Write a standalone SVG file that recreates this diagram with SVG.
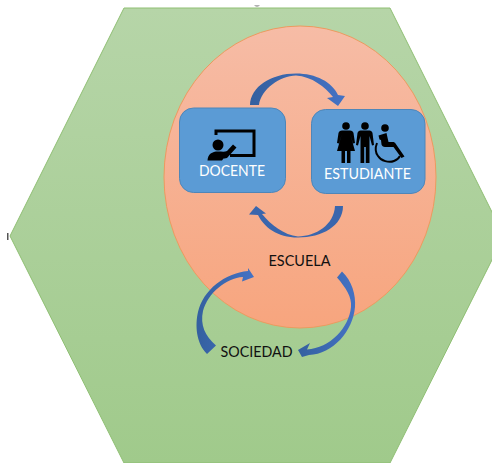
<svg xmlns="http://www.w3.org/2000/svg" width="492" height="463" viewBox="0 0 492 463">
<style>
text{font-family:Lato,"Liberation Sans",sans-serif;font-size:15.500px;text-anchor:middle}
.w{fill:#fff}.k{fill:#111}
.box{fill:#5b9bd5;stroke:#4f86b8;stroke-width:1}
.arrow{fill:url(#ga)}
.ic{fill:#000}
.icl{fill:none;stroke:#000}
</style>
<defs>
<linearGradient id="gh" x1="0" y1="0" x2="0" y2="1"><stop offset="0" stop-color="#b6d5a8"/><stop offset="1" stop-color="#a0ca8b"/></linearGradient>
<linearGradient id="ge" x1="0" y1="0" x2="0" y2="1"><stop offset="0" stop-color="#f6bca6"/><stop offset="1" stop-color="#f7a57e"/></linearGradient>
<linearGradient id="ga" x1="0" y1="0" x2="1" y2="0"><stop offset="0" stop-color="#34609f"/><stop offset="1" stop-color="#4472c4"/></linearGradient>
</defs>
<g id="sociedad-hexagon">
<path d="M124 8H390L504 236L390 463H124L10 236Z" fill="url(#gh)" stroke="#8fbf73" stroke-width="1"/>
<path d="M254 5.500Q257 7.500 260 5.500Z" fill="#666"/>
<rect x="7" y="233" width="1.500" height="7" fill="#555"/>
</g>
<g id="escuela-ellipse">
<ellipse cx="300" cy="177" rx="136" ry="151" fill="url(#ge)" stroke="#ed9a5f" stroke-width="1"/>
<text class="k" x="299.500" y="266" textLength="62" lengthAdjust="spacingAndGlyphs">ESCUELA</text>
</g>
<g id="connectors">
<path class="arrow" d="M250 105C250.500 87 271 73.500 296 73.500C316 73.500 332 82 338 95L345 96L338 106L327 98L333 97C325 87 312 76.500 296 75.500C280 76 261 89 259 105Z"/>
<path class="arrow" style="fill:#3a66ad" d="M343 206C343 226 322 237.500 298 237.500C277 237.500 264 227 258 215L249 214.500L256 206L266 213.500L262 214C271 225 284 235 298 236.500C316 236 334 225 335 206Z"/>
<path class="arrow" d="M342 271.500C352 281 356 295 355 307C353 331 333 354 309 355L302 357L298 350L310 343L307 349.500C330 348 349 328 351 307C352 297 346 288 337 277.500Z"/>
<path class="arrow" d="M207 354C196 343 195 325 198 312C203 290 225 273 248 271L248 268L254 277L242 281.500L243 277C226 278 208 293 203 311C200 325 205 336 216 345.500Z"/>
</g>
<g id="docente">
<rect class="box" x="179.500" y="108" width="106" height="84.500" rx="14"/>
<path class="icl" stroke-width="3" d="M216 135V131H254V155.500H230"/>
<circle class="ic" cx="218" cy="145" r="5.500"/>
<path class="ic" d="M207.500 160.500C208 154 212 151.500 218 151.500C222 151.500 225 152 227 151L233 144.500L236.500 147.500L227 158C225 158.500 224 158.500 223.500 158.500L222 160.500Z"/>
<text class="w" x="232" y="176" textLength="66" lengthAdjust="spacingAndGlyphs">DOCENTE</text>
</g>
<g id="estudiante">
<rect class="box" x="311.500" y="109.500" width="113.500" height="84" rx="14"/>
<circle class="ic" cx="346" cy="126" r="3.800"/>
<path class="ic" d="M342 130.500H350C352 130.500 353 131.500 353.500 133L355 143L353 143.500L350.500 135L355 151H350.500V163H347V151H345V163H341.500V151H337L341.500 135L339 143.500L337 143L338.500 133C339 131.500 340 130.500 342 130.500Z"/>
<circle class="ic" cx="365" cy="126" r="3.800"/>
<path class="ic" d="M360.500 130.500H369.500C371 130.500 372 131.500 372.500 133L374 145L372 145.500L369.500 136V163H365.800V147H364.200V163H360.500V136L358 145.500L356 145L357.500 133C358 131.500 359 130.500 360.500 130.500Z"/>
<circle class="ic" cx="385" cy="128" r="3.800"/>
<path class="ic" d="M378.500 135.500L386.500 133L388.500 142H393C394 142 395 142.500 395.500 143.500L404.500 156.500L401.500 158L393.500 147H385C383 147 382 146 381.500 144.500L381 140L379.500 139.500Z"/>
<path class="icl" stroke-width="2" d="M377 143C375 148 375 152 378 156C381 161 389 163 394 161C397 160 399 158 400 156"/>
<text class="w" x="367.500" y="179" textLength="87" lengthAdjust="spacingAndGlyphs">ESTUDIANTE</text>
</g>
<g id="sociedad-label">
<text class="k" x="256.500" y="357" textLength="72" lengthAdjust="spacingAndGlyphs">SOCIEDAD</text>
</g>
</svg>
